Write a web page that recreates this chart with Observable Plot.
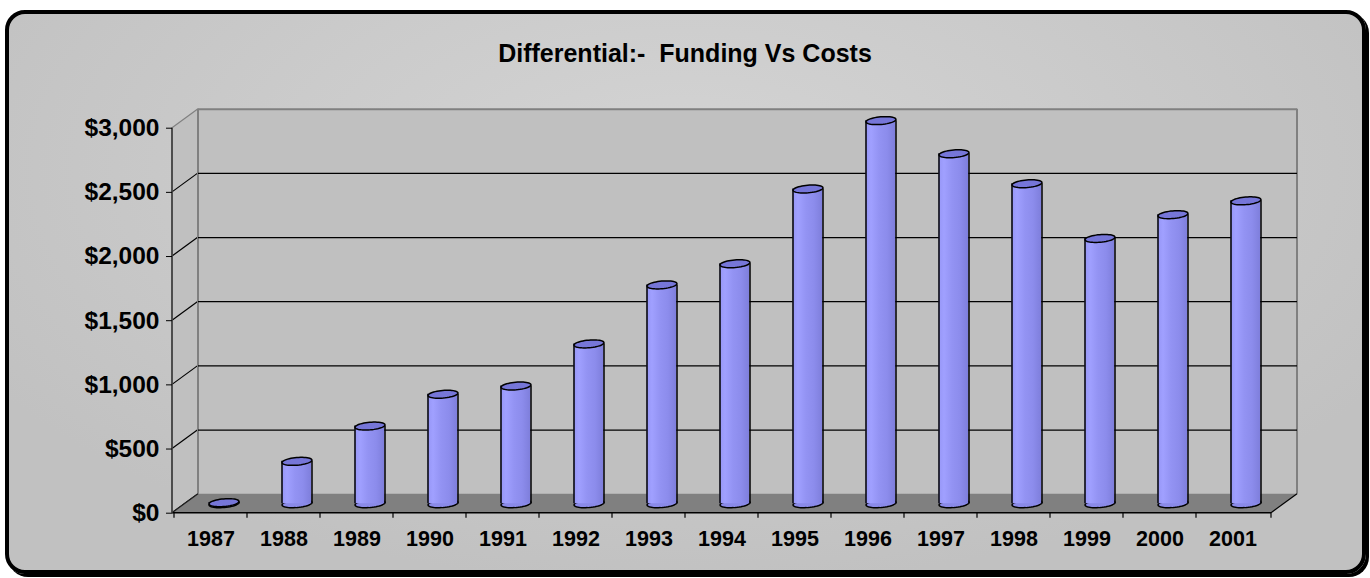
<!DOCTYPE html>
<html>
<head>
<meta charset="utf-8">
<script src="https://cdn.jsdelivr.net/npm/d3@7"></script>
<script src="https://cdn.jsdelivr.net/npm/@observablehq/plot@0.6"></script>
<style>
  html, body { margin: 0; padding: 0; background: #fff; }
  #wrap { position: relative; width: 1370px; height: 578px; overflow: hidden; font-family: "Liberation Sans", Arial, sans-serif; }
  #panel { position: absolute; left: 5px; top: 10px; width: 1353px; height: 556px; border: 4px solid #000; border-radius: 20px;
           box-shadow: 3px 3px 0 #000;
           background: radial-gradient(ellipse 60% 75% at 50% 28%, #d4d4d4 0%, #cbcbcb 50%, #c1c1c1 100%); }
  #title { position: absolute; left: 0; top: 41px; width: 1370px; text-align: center; font-weight: bold; font-size: 25px; line-height: 25px; white-space: pre; color: #000; }
  #chart { position: absolute; left: 0; top: 80px; }
</style>
</head>
<body>
<div id="wrap">
  <div id="panel"></div>
  <div id="title"></div>
  <div id="chart"></div>
</div>
<script>
// ---- data ----
const titleText = "Differential:-  Funding Vs Costs";
const years = ["1987","1988","1989","1990","1991","1992","1993","1994","1995","1996","1997","1998","1999","2000","2001"];
const values = [8, 330, 605, 853, 917, 1245, 1705, 1870, 2452, 2985, 2727, 2493, 2067, 2252, 2360];
const yTicks = [0, 500, 1000, 1500, 2000, 2500, 3000];

document.getElementById("title").textContent = titleText;

// ---- 3D styling constants ----
const DX = 26, DY = -19;      // depth offset of back wall
const BX = 13, BY = -9.5;     // bars sit at mid depth
const HALF = 15;              // half cylinder width

const data = years.map((year, i) => ({year, value: values[i]}));

const ellipse = {
  draw(ctx) {
    const rx = HALF, ry = 3.8, a = -5 * Math.PI / 180, c = Math.cos(a), s = Math.sin(a), n = 48;
    for (let k = 0; k <= n; k++) {
      const t = 2 * Math.PI * k / n, px = rx * Math.cos(t), py = ry * Math.sin(t);
      const X = px * c - py * s, Y = px * s + py * c;
      if (k) ctx.lineTo(X, Y); else ctx.moveTo(X, Y);
    }
    ctx.closePath();
  }
};

const defs = () => {
  const d = d3.create("svg:defs");
  const lg = d.append("linearGradient").attr("id", "cylGrad").attr("x1", "0").attr("x2", "1").attr("y1", "0").attr("y2", "0");
  [[0, "#9696f6"], [0.18, "#a0a0ff"], [0.45, "#9393f3"], [0.72, "#8c8cec"], [1, "#7e7edb"]]
    .forEach(([o, c]) => lg.append("stop").attr("offset", o).attr("stop-color", c));
  return d.node();
};

function walls(index, scales, values, dims) {
  const x0 = dims.marginLeft, x1 = dims.width - dims.marginRight;
  const y0 = scales.y(0), yT = scales.y(yTicks[yTicks.length - 1]);
  const g = d3.create("svg:g");
  g.append("path").attr("d", `M${x0},${y0}L${x0},${yT}L${x0 + DX},${yT + DY}L${x0 + DX},${y0 + DY}Z`).attr("fill", "#c0c0c0");
  g.append("rect").attr("x", x0 + DX).attr("y", yT + DY).attr("width", x1 - x0).attr("height", y0 - yT).attr("fill", "#c0c0c0");
  for (const v of yTicks) {
    const y = scales.y(v);
    g.append("line").attr("x1", x0).attr("y1", y).attr("x2", x0 + DX).attr("y2", y + DY)
      .attr("stroke", v === yTicks[yTicks.length - 1] ? "#808080" : "#000").attr("stroke-width", 1.2);
  }
  g.append("line").attr("x1", x0 + DX).attr("y1", yT + DY).attr("x2", x0 + DX).attr("y2", y0 + DY).attr("stroke", "#808080").attr("stroke-width", 2);
  g.append("line").attr("x1", x1 + DX).attr("y1", yT + DY).attr("x2", x1 + DX).attr("y2", y0 + DY).attr("stroke", "#808080").attr("stroke-width", 2);
  return g.node();
}

function floorAndAxes(index, scales, values, dims) {
  const x0 = dims.marginLeft, x1 = dims.width - dims.marginRight;
  const y0 = scales.y(0), yT = scales.y(yTicks[yTicks.length - 1]);
  const g = d3.create("svg:g");
  g.append("path").attr("d", `M${x0},${y0}L${x1},${y0}L${x1 + DX},${y0 + DY}L${x0 + DX},${y0 + DY}Z`).attr("fill", "#808080");
  g.append("line").attr("x1", x0).attr("y1", y0).attr("x2", x0 + DX).attr("y2", y0 + DY).attr("stroke", "#202020").attr("stroke-width", 1.2);
  g.append("line").attr("x1", x1).attr("y1", y0).attr("x2", x1 + DX).attr("y2", y0 + DY).attr("stroke", "#000").attr("stroke-width", 1.2);
  g.append("line").attr("x1", x0).attr("y1", y0).attr("x2", x1).attr("y2", y0).attr("stroke", "#000").attr("stroke-width", 1.5);
  g.append("line").attr("x1", x0).attr("y1", y0).attr("x2", x0).attr("y2", yT).attr("stroke", "#404040").attr("stroke-width", 1.8);
  const edges = years.map(y => scales.x(y)).concat([x1]);
  for (const x of edges) {
    g.append("line").attr("x1", x).attr("y1", y0).attr("x2", x).attr("y2", y0 + 5).attr("stroke", "#000").attr("stroke-width", 1.2);
  }
  return g.node();
}

const chart = Plot.plot({
  width: 1370,
  height: 498,
  marginLeft: 172,
  marginRight: 99,
  marginTop: 47.7,
  marginBottom: 65.3,
  style: {background: "transparent", overflow: "visible", fontFamily: "'Liberation Sans', Arial, sans-serif", color: "#000"},
  x: {type: "band", domain: years, padding: 0, axis: null},
  y: {domain: [0, 3000], axis: null},
  marks: [
    defs,
    walls,
    Plot.ruleY(yTicks.slice(1, -1), {dx: DX, dy: DY, stroke: "#000", strokeWidth: 1.2}),
    Plot.ruleY(yTicks.slice(-1), {dx: DX, dy: DY, stroke: "#808080", strokeWidth: 2}),
    floorAndAxes,
    Plot.axisY({ticks: yTicks, tickFormat: d => "$" + d3.format(",")(d), fontSize: 24.5, fontWeight: "bold",
                tickSize: 6, tickPadding: 7, stroke: "#000", fill: "#000", label: null}),
    Plot.axisX({tickSize: 0, tickPadding: 18, fontSize: 21.5, fontWeight: "bold", fill: "#000", label: null}),
    Plot.dot(data, {x: "year", y: () => 0, symbol: ellipse, r: 1, fill: "#8a8ae8", stroke: "#000", strokeWidth: 1.5, dx: BX, dy: BY}),
    Plot.barY(data, {x: "year", y: "value", fill: "url(#cylGrad)", insetLeft: 36.63 - HALF, insetRight: 36.63 - HALF, dx: BX, dy: BY}),
    Plot.ruleX(data, {x: "year", y1: () => 0, y2: "value", dx: BX - HALF, dy: BY, stroke: "#000", strokeWidth: 1.5}),
    Plot.ruleX(data, {x: "year", y1: () => 0, y2: "value", dx: BX + HALF, dy: BY, stroke: "#000", strokeWidth: 1.5}),
    Plot.dot(data, {x: "year", y: "value", symbol: ellipse, r: 1, fill: "#7676d8", stroke: "#000", strokeWidth: 1.5, dx: BX, dy: BY})
  ]
});
document.getElementById("chart").appendChild(chart);
</script>
</body>
</html>
